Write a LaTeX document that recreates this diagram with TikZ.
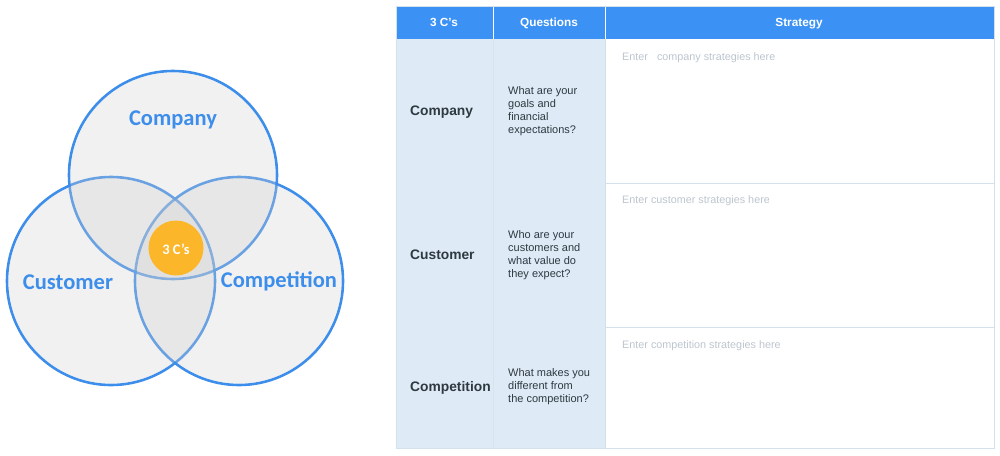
\documentclass[tikz,border=0pt]{standalone}
\usepackage{fontspec}
\setmainfont{Liberation Sans}
\newfontfamily\vennfont{Carlito}
\definecolor{vennblue}{HTML}{3D8EEA}
\definecolor{venngrey}{HTML}{D0D0D0}
\definecolor{cssun}{HTML}{FCB62A}
\definecolor{headblue}{HTML}{3C92F4}
\definecolor{leftblue}{HTML}{DEEBF7}
\definecolor{gridline}{HTML}{D3E1EE}
\definecolor{softline}{HTML}{D6E4F1}
\definecolor{darktext}{HTML}{2E3940}
\definecolor{hinttext}{HTML}{BCC5CE}
\tikzset{
  vennline/.style={draw=vennblue, line width=2.6pt},
  vennfill/.style={fill=venngrey, fill opacity=0.3},
  vennlabel/.style={font=\vennfont\bfseries\fontsize{22.5}{26}\selectfont, text=vennblue},
  headtext/.style={font=\bfseries\fontsize{11.8}{14}\selectfont, text=white, anchor=base},
  rowtext/.style={font=\bfseries\fontsize{13.8}{16}\selectfont, text=darktext, anchor=west, inner sep=0pt},
  asktext/.style={font=\fontsize{11}{13}\selectfont, text=darktext, anchor=west, align=left, inner sep=0pt},
  hint/.style={font=\fontsize{10.8}{13}\selectfont, text=hinttext, anchor=west, inner sep=0pt}
}
\begin{document}
\begin{tikzpicture}[x=1pt, y=-1pt]
\useasboundingbox (0,0) rectangle (1000,455);
% venn
\foreach \x/\y in {173/175, 111/281, 239/281}{
\draw[vennline] (\x,\y) circle (104);
}
\foreach \x/\y in {173/175, 111/281, 239/281}{
\fill[vennfill] (\x,\y) circle (102.6);
}
\fill[cssun] (176,248) circle (27.5);
\node[font=\vennfont\bfseries\fontsize{14.5}{16}\selectfont, text=white] (core) at (176,249) {3 C’s};
\node[vennlabel] (vcompany) at (173,120) {Company};
\node[vennlabel] (vcustomer) at (68,282) {Customer};
\node[vennlabel] (vcompetition) at (279,281) {Competition};
% table
\fill[headblue] (396,6) rectangle (994,39);
\fill[leftblue] (396,39) rectangle (605,448);
\draw[white, line width=0.8pt] (493,6) -- (493,39);
\draw[white, line width=0.8pt] (605,6) -- (605,39);
\draw[softline, line width=0.5pt] (493,39) -- (493,448);
\draw[gridline, line width=0.8pt] (605,39) -- (605,448);
\draw[gridline, line width=0.8pt] (605,183) -- (994,183);
\draw[gridline, line width=0.8pt] (605,327) -- (994,327);
\draw[gridline, line width=0.8pt] (396,6) rectangle (994,448);
\node[headtext] (hcs) at (444,27) {3 C’s};
\node[headtext] (hquest) at (549,27) {Questions};
\node[headtext] (hstrat) at (799,27) {Strategy};
\node[rowtext] (rcompany) at (410,112) {Company};
\node[rowtext] (rcustomer) at (410,255) {Customer};
\node[rowtext] (rcompetition) at (410,388) {Competition};
\node[asktext] (qcompany) at (508,111) {What are your\\goals and\\financial\\expectations?};
\node[asktext] (qcustomer) at (508,255) {Who are your\\customers and\\what value do\\they expect?};
\node[asktext] (qcompetition) at (508,387) {What makes you\\different from\\the competition?};
\node[hint] (scompany) at (622,58) {Enter\ \ \ company strategies here};
\node[hint] (scustomer) at (622,201) {Enter customer strategies here};
\node[hint] (scompetition) at (622,346) {Enter competition strategies here};
\end{tikzpicture}
\end{document}
